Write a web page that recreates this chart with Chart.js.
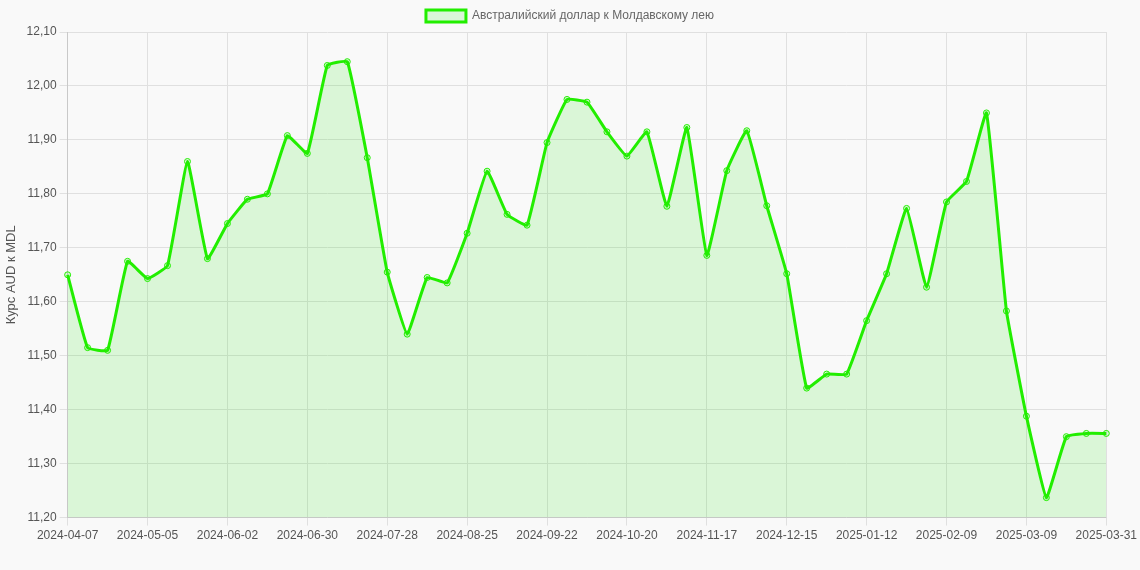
<!DOCTYPE html>
<html>
<head>
<meta charset="utf-8">
<script src="https://cdn.jsdelivr.net/npm/chart.js"></script>
<style>
  html, body { margin: 0; padding: 0; background: #f9f9f9; }
  #wrap { width: 1140px; height: 570px; }
</style>
</head>
<body>
<div id="wrap"><canvas id="myChart"></canvas></div>
<script>
var labels = [
  '2024-04-07','2024-04-14','2024-04-21','2024-04-28','2024-05-05','2024-05-12','2024-05-19','2024-05-26',
  '2024-06-02','2024-06-09','2024-06-16','2024-06-23','2024-06-30','2024-07-07','2024-07-14','2024-07-21',
  '2024-07-28','2024-08-04','2024-08-11','2024-08-18','2024-08-25','2024-09-01','2024-09-08','2024-09-15',
  '2024-09-22','2024-09-29','2024-10-06','2024-10-13','2024-10-20','2024-10-27','2024-11-03','2024-11-10',
  '2024-11-17','2024-11-24','2024-12-01','2024-12-08','2024-12-15','2024-12-22','2024-12-29','2025-01-05',
  '2025-01-12','2025-01-19','2025-01-26','2025-02-02','2025-02-09','2025-02-16','2025-02-23','2025-03-02',
  '2025-03-09','2025-03-16','2025-03-23','2025-03-30','2025-03-31'
];
var rates = [
  11.65, 11.515, 11.51, 11.675, 11.643, 11.667, 11.86, 11.68,
  11.745, 11.79, 11.80, 11.908, 11.875, 12.038, 12.045, 11.867,
  11.655, 11.54, 11.645, 11.635, 11.727, 11.842, 11.762, 11.742,
  11.895, 11.975, 11.97, 11.915, 11.87, 11.915, 11.777, 11.923,
  11.686, 11.843, 11.917, 11.778, 11.652, 11.44, 11.466, 11.466,
  11.565, 11.652, 11.773, 11.627, 11.785, 11.823, 11.95, 11.583,
  11.388, 11.237, 11.35, 11.356, 11.356
];

const data = {
  labels: labels,
  datasets: [{
    label: 'Австралийский доллар к Молдавскому лею',
    data: rates,
    borderColor: '#22ee00',
    backgroundColor: 'rgba(40, 230, 20, 0.15)',
    borderWidth: 3,
    fill: true,
    tension: 0.1,
    pointRadius: 3,
    pointBorderWidth: 1,
    pointBackgroundColor: 'rgba(40, 230, 20, 0.15)',
    pointBorderColor: '#22ee00'
  }]
};

const config = {
  type: 'line',
  data,
  options: {
    responsive: true,
    maintainAspectRatio: false,
    animation: false,
    layout: { padding: { bottom: 24 } },
    plugins: {
      legend: { position: 'top', labels: { color: '#666', font: { size: 12 } } }
    },
    scales: {
      x: {
        grid: { color: '#e0e0e0' },
        ticks: {
          autoSkip: false, maxRotation: 0, color: '#555',
          callback: function (v, i) {
            return (i % 4 === 0 || i === labels.length - 1) ? labels[i] : null;
          }
        }
      },
      y: {
        min: 11.2, max: 12.1,
        grid: { color: '#e0e0e0' },
        title: { display: true, text: 'Курс AUD к MDL', color: '#555', font: { size: 13 } },
        ticks: {
          stepSize: 0.1, color: '#555',
          callback: function (v) { return v.toFixed(2).replace('.', ','); }
        }
      }
    }
  }
};

const myChart = new Chart(document.getElementById('myChart'), config);
</script>
</body>
</html>
